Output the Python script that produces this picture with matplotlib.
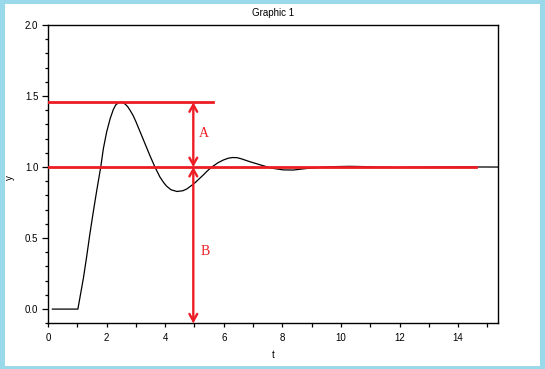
import matplotlib
matplotlib.use("Agg")
import matplotlib.pyplot as plt
from matplotlib.patches import Rectangle
from matplotlib.ticker import MultipleLocator, FormatStrFormatter

# step response
t = [0.15, 1.02, 1.21, 1.32, 1.43, 1.55, 1.66, 1.80, 1.89, 2.00, 2.12, 2.23,
     2.31, 2.40, 2.48, 2.56, 2.65, 2.72, 2.80, 2.90, 3.00, 3.12, 3.25, 3.36,
     3.48, 3.65, 3.82, 3.95, 4.05, 4.20, 4.40, 4.60, 4.74, 4.91, 5.02, 5.15,
     5.30, 5.45, 5.59, 5.80, 5.99, 6.15, 6.30, 6.45, 6.60, 6.90, 7.30, 7.64,
     8.03, 8.37, 8.83, 9.30, 9.80, 10.3, 10.8, 11.3, 11.9, 12.5, 13.2, 14.0,
     15.36]
y = [0.0, 0.0, 0.22, 0.37, 0.53, 0.69, 0.83, 1.00, 1.13, 1.245, 1.34, 1.405,
     1.437, 1.452, 1.457, 1.454, 1.44, 1.425, 1.40, 1.365, 1.32, 1.26, 1.195, 1.14,
     1.08, 1.00, 0.93, 0.89, 0.865, 0.84, 0.828, 0.833, 0.846, 0.872, 0.89, 0.915,
     0.944, 0.975, 1.00, 1.03, 1.05, 1.062, 1.067, 1.066, 1.058, 1.037, 1.012, 0.992,
     0.98, 0.979, 0.99, 0.998, 1.003, 1.005, 1.003, 0.999, 0.997, 0.998, 1.0, 1.001,
     1.0]

peak_level = 1.455
final_level = 1.0
peak_line_end = 5.63
final_line_end = 14.6
arrow_t = 4.96
labels = ["A", "B"]

RED = "#ed1c24"

fig = plt.figure(figsize=(5.45, 3.69), dpi=100)
fig.patch.set_facecolor("#99d9ea")
fig.patches.append(Rectangle((5 / 545, 3 / 369), 535 / 545, 362 / 369,
                             transform=fig.transFigure, facecolor="white",
                             edgecolor="none", zorder=-10))

ax = fig.add_axes([48 / 545, 1 - 323.3 / 369, 450 / 545, 298.3 / 369])
ax.set_facecolor("white")
ax.plot(t, y, color="black", lw=0.9, zorder=2)

# red reference lines
ax.plot([0, peak_line_end], [peak_level, peak_level], color=RED, lw=2.0, zorder=3)
ax.plot([0, final_line_end], [final_level, final_level], color=RED, lw=2.0, zorder=3)

# double arrows, open V heads
arrow = dict(arrowstyle="<->,head_length=0.5,head_width=0.28", color=RED,
             lw=1.7, shrinkA=0, shrinkB=0, joinstyle="miter")
ax.annotate("", xy=(arrow_t, peak_level), xytext=(arrow_t, final_level),
            arrowprops=arrow, zorder=4)
ax.annotate("", xy=(arrow_t, final_level), xytext=(arrow_t, -0.1),
            arrowprops=arrow, zorder=4)
ax.text(5.33, 1.233, labels[0], color=RED, fontsize=10, family="Liberation Serif",
        ha="center", va="center")
ax.text(5.36, 0.402, labels[1], color=RED, fontsize=10, family="Liberation Serif",
        ha="center", va="center")

ax.set_xlim(0, 15.36)
ax.set_ylim(-0.1, 2.0)
ax.xaxis.set_major_locator(MultipleLocator(2))
ax.xaxis.set_minor_locator(MultipleLocator(1))
ax.yaxis.set_major_locator(MultipleLocator(0.5))
ax.yaxis.set_minor_locator(MultipleLocator(0.1))
ax.xaxis.set_major_formatter(FormatStrFormatter("%d"))
ax.yaxis.set_major_formatter(FormatStrFormatter("%.1f"))

ax.tick_params(axis="both", which="major", labelsize=7, direction="out",
               width=0.9, top=False, right=False)
ax.tick_params(axis="y", which="major", length=4.5, pad=2.5)
ax.tick_params(axis="y", which="minor", length=2.2, width=0.9, direction="out")
ax.tick_params(axis="x", which="major", length=3.2, pad=4)
ax.tick_params(axis="x", which="minor", length=3.0, width=0.9, direction="out")
for lab in ax.get_xticklabels() + ax.get_yticklabels():
    lab.set_family("Liberation Sans")
for s in ax.spines.values():
    s.set_linewidth(1.0)

ax.set_xlabel("t", fontsize=7, family="Liberation Sans")
ax.set_ylabel("y", fontsize=7, family="Liberation Sans")
ax.xaxis.set_label_coords(0.5, -0.088)
ax.yaxis.set_label_coords(-0.074, 0.49)
fig.text(273 / 545, 1 - 12.9 / 369, "Graphic 1", fontsize=7,
         family="Liberation Sans", ha="center", va="center")

fig.savefig("out.png", dpi=100, facecolor=fig.get_facecolor())
